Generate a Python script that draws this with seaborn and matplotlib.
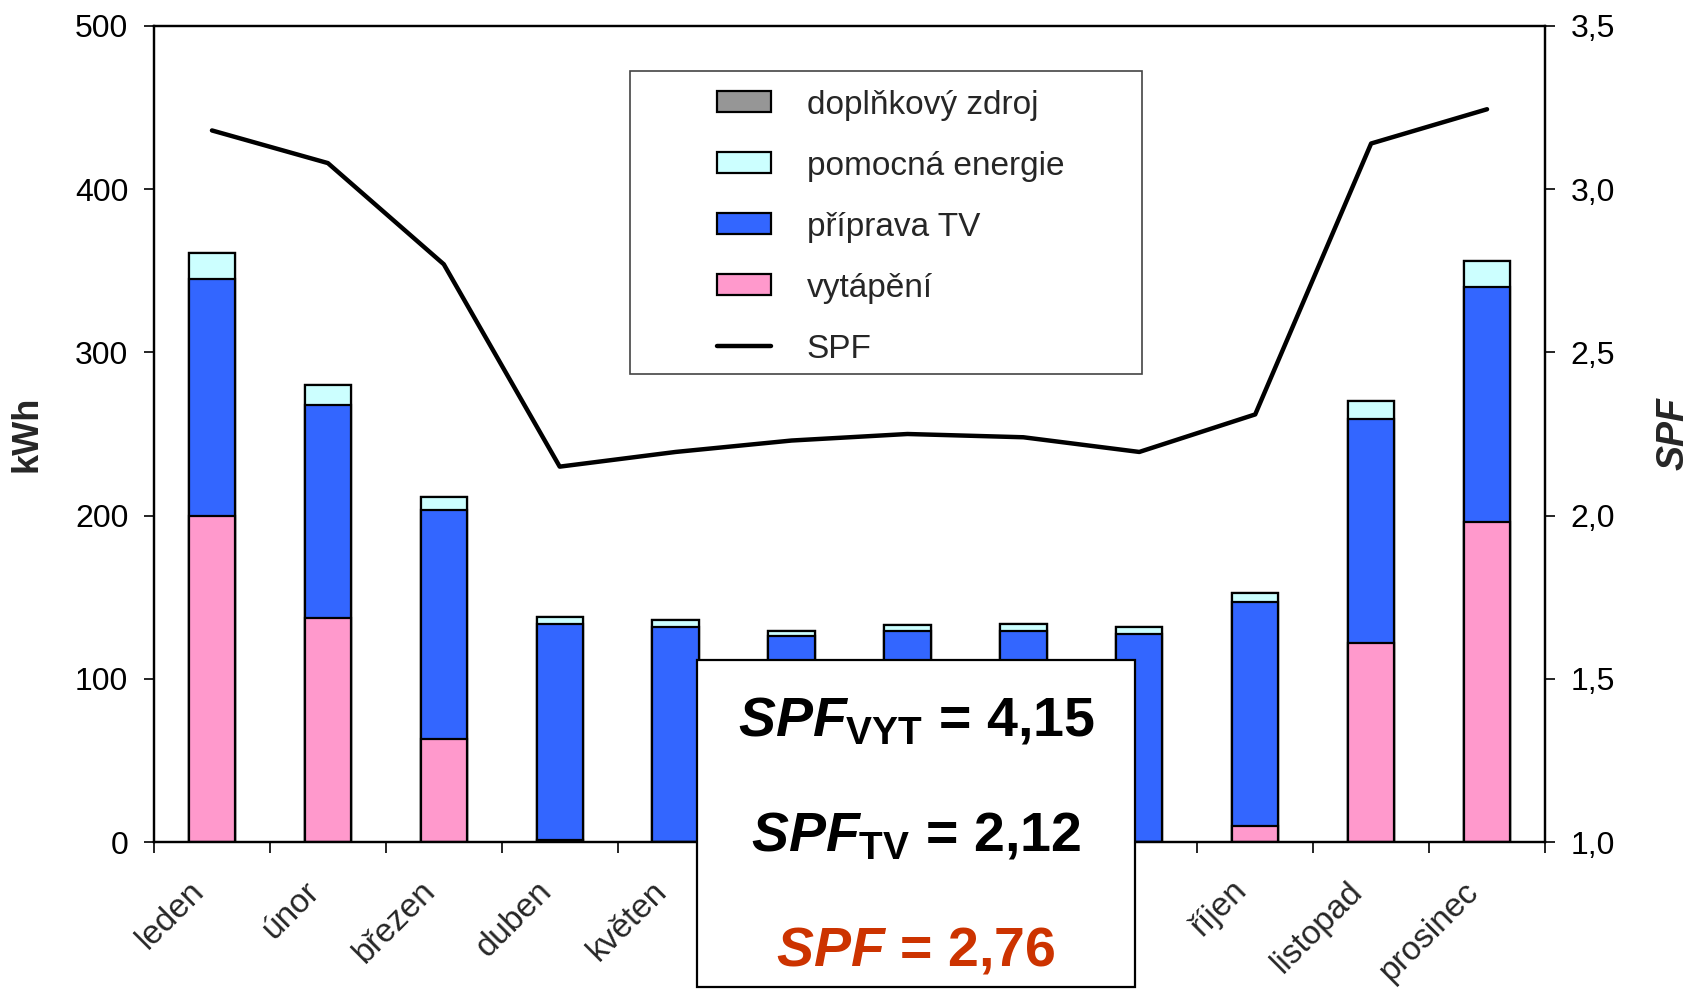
import numpy as np
import pandas as pd
import matplotlib
matplotlib.use('Agg')
import matplotlib.pyplot as plt
import matplotlib.transforms as mtransforms
from matplotlib import font_manager
from matplotlib.patches import Rectangle, Patch
from matplotlib.lines import Line2D
from matplotlib.ticker import FuncFormatter
import seaborn as sns

# ---- data ----
months = ["leden", "únor", "březen", "duben", "květen", "červen",
          "červenec", "srpen", "září", "říjen", "listopad", "prosinec"]
vytapeni = [199.5, 137, 63, 1, 0, 0, 0, 0, 0, 10, 122, 196]
priprava_tv = [145.5, 130.5, 140.5, 132.5, 131.5, 126, 129, 129.5, 127.5, 137, 137, 144]
pomocna_energie = [16, 12.5, 8, 4.6, 4.6, 3.3, 4, 3.9, 4.5, 5.3, 11.2, 15.8]
doplnkovy_zdroj = [0, 0, 0, 0, 0, 0, 0, 0, 0, 0, 0, 0]
spf = [3.18, 3.08, 2.77, 2.15, 2.195, 2.23, 2.25, 2.24, 2.195, 2.31, 3.14, 3.245]

series_names = ["doplňkový zdroj", "pomocná energie", "příprava TV", "vytápění"]
colors = {"doplňkový zdroj": "#969696", "pomocná energie": "#CCFFFF",
          "příprava TV": "#3366FF", "vytápění": "#FF99CC"}

sns.set_theme(style="ticks")
plt.rcParams['font.family'] = ['Liberation Sans', 'DejaVu Sans']
names = {f.name for f in font_manager.fontManager.ttflist}
narrow = 'Liberation Sans Narrow' if 'Liberation Sans Narrow' in names else 'Liberation Sans'
big_size = 46 if narrow == 'Liberation Sans Narrow' else 40
plt.rcParams['mathtext.fontset'] = 'custom'
plt.rcParams['mathtext.it'] = f'{narrow}:italic:bold'
plt.rcParams['mathtext.rm'] = f'{narrow}:bold'
plt.rcParams['mathtext.bf'] = f'{narrow}:bold'

df = pd.DataFrame({"month": months, "vytápění": vytapeni, "příprava TV": priprava_tv,
                   "pomocná energie": pomocna_energie, "doplňkový zdroj": doplnkovy_zdroj})
# cumulative levels (stack from bottom: vytápění, TV, pomocná, doplňkový)
stack_order = ["vytápění", "příprava TV", "pomocná energie", "doplňkový zdroj"]
cum = df[stack_order].cumsum(axis=1)

fig = plt.figure(figsize=(16.9, 9.89), dpi=100)
ax = fig.add_axes([154/1690, 1-842/989, (1545-154)/1690, (842-26)/989])

for name in reversed(stack_order):
    sns.barplot(x=df["month"], y=cum[name], color=colors[name], saturation=1,
                width=0.4, edgecolor="black", linewidth=1.6, errorbar=None,
                order=months, ax=ax)

ax.set_ylim(0, 500)
ax.set_yticks([0, 100, 200, 300, 400, 500])
ax.set_xlim(-0.5, 11.5)
ax.set_xlabel("")
ax.set_ylabel("kWh", fontsize=26, fontweight="bold", labelpad=22)

ax2 = ax.twinx()
sns.lineplot(x=np.arange(len(months)), y=spf, color="black", linewidth=3.2, ax=ax2)
ax2.set_ylim(1.0, 3.5)
ax2.set_yticks([1.0, 1.5, 2.0, 2.5, 3.0, 3.5])
ax2.yaxis.set_major_formatter(FuncFormatter(lambda v, p: f"{v:.1f}".replace(".", ",")))
ax2.set_ylabel("SPF", fontsize=27, fontweight="bold", fontstyle="italic", labelpad=29)
ax2.set_xlim(-0.5, 11.5)

for a in (ax, ax2):
    for s in a.spines.values():
        s.set_color("black")
        s.set_linewidth(1.6)
ax.tick_params(axis="y", labelsize=23, length=7.5, width=1.2, pad=11, colors="black")
ax2.tick_params(axis="y", labelsize=23, length=7.5, width=1.2, pad=11, colors="black")

# x ticks: labels at centers, tick marks at boundaries
ax.set_xticks(np.arange(len(months)))
ax.set_xticklabels(months, rotation=45, ha="right", va="center", rotation_mode="anchor")
ax.set_xticks(np.arange(-0.5, len(months), 1), minor=True)
ax.tick_params(axis="x", which="major", length=0, labelsize=24, pad=32)
ax.tick_params(axis="x", which="minor", length=8, width=1.2, color="black")
offset = mtransforms.ScaledTranslation(-13/100, 0, fig.dpi_scale_trans)
for lbl in ax.get_xticklabels():
    lbl.set_transform(lbl.get_transform() + offset)

# legend with separate frame
frame = Rectangle((0.342, 0.574), 0.368, 0.371, transform=ax2.transAxes,
                  facecolor="white", edgecolor="#444444", linewidth=1.2, zorder=4)
ax2.add_patch(frame)
handles = [Patch(facecolor=colors[n], edgecolor="black", linewidth=1.6) for n in series_names]
handles.append(Line2D([0], [0], color="black", linewidth=3.2))
labels = series_names + ["SPF"]
leg = ax2.legend(handles, labels, loc="upper left", bbox_to_anchor=(0.4045, 0.922),
                 frameon=False, fontsize=24, borderpad=0, borderaxespad=0,
                 handlelength=1.62, handleheight=0.6, handletextpad=1.08,
                 labelspacing=0.9)
leg.set_zorder(5)

# SPF summary box
box = Rectangle((697/1690, 0.002), (1135-697)/1690, 1-660/989-0.002,
                transform=fig.transFigure, facecolor="white", edgecolor="black",
                linewidth=1.6, zorder=10)
fig.add_artist(box)
cx = 916/1690
fig.text(cx, 1-736/989, r"$\mathit{SPF}_{\mathrm{VYT}}$ = 4,15", ha="center", va="baseline",
         fontsize=big_size, fontweight="bold", family=[narrow, 'DejaVu Sans'], color="black", zorder=11)
fig.text(cx, 1-851/989, r"$\mathit{SPF}_{\mathrm{TV}}$ = 2,12", ha="center", va="baseline",
         fontsize=big_size, fontweight="bold", family=[narrow, 'DejaVu Sans'], color="black", zorder=11)
fig.text(cx, 1-966/989, r"$\mathit{SPF}$ = 2,76", ha="center", va="baseline",
         fontsize=big_size, fontweight="bold", family=[narrow, 'DejaVu Sans'], color="#CC3300", zorder=11)

fig.savefig("out.png", dpi=100, facecolor="white")
